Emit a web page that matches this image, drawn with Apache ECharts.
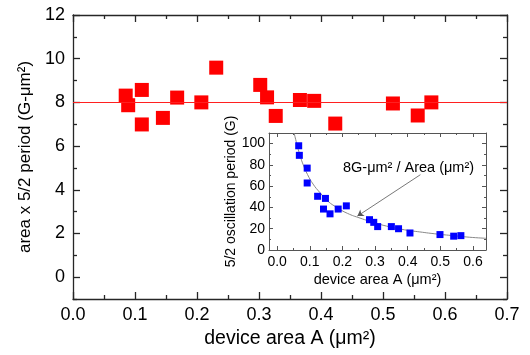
<!DOCTYPE html>
<html><head><meta charset="utf-8">
<script src="https://cdn.jsdelivr.net/npm/echarts@6/dist/echarts.min.js"></script>
<style>html,body{margin:0;padding:0;background:#fff}#c{width:530px;height:355px}</style>
</head><body><div id="c"></div>
<script>
// ---- data ----
const areaMain    = [0.085,0.089,0.111,0.111,0.145,0.168,0.207,0.231,0.302,0.313,0.327,0.366,0.389,0.423,0.516,0.556,0.578];
const productMain = [8.31,7.87,8.57,6.99,7.29,8.22,8.00,9.59,8.80,8.23,7.38,8.11,8.07,7.03,7.95,7.40,8.00];
const refLevel = 8;

const areaInset   = [0.066,0.068,0.092,0.092,0.124,0.148,0.142,0.162,0.187,0.212,0.283,0.296,0.308,0.350,0.372,0.407,0.499,0.541,0.563];
const periodInset = [98,89,77,63,50.5,48.5,38.5,34,38.5,41.5,28.5,26,22,22,20,16,14.5,13,13.5];

const curveArea   = [0.052,0.060,0.070,0.080,0.093,0.110,0.131,0.155,0.183,0.215,0.254,0.300,0.335,0.390,0.437,0.490,0.539,0.590,0.640];
const curvePeriod = [110,100,89,80,71,62,54,46,40,34.5,30,25.5,22.5,19,17,15,13.5,12,11];

const mainYTicks   = [0,2,4,6,8,10,12];
const mainYMinor   = [-1,1,3,5,7,9,11];
const insetXTicks  = [0,0.1,0.2,0.3,0.4,0.5,0.6];
const insetXMinor  = [0.05,0.15,0.25,0.35,0.45,0.55];
const insetYTicks  = [0,20,40,60,80,100];
const insetYMinor  = [10,30,50,70,90];

const arrowFrom = [0.439, 70.8];
const arrowTo   = [0.246, 31.9];

const FONT = "'Liberation Sans', Arial, sans-serif";
const FR = '#262626';
const mainLine = {show:true, onZero:false, lineStyle:{color:FR, width:1.3}};
const insetLine = {show:true, onZero:false, lineStyle:{color:'#555', width:1}};
const noLine = {show:false, onZero:false};
const majT = {inside:true, length:7, lineStyle:{color:FR, width:1.3}};
const minT = {inside:true, length:4, lineStyle:{color:FR, width:1.3}};

function vAxis(extra){ return Object.assign({type:'value', splitLine:{show:false}, axisLabel:{show:false}}, extra); }

const chart = echarts.init(document.getElementById('c'));
chart.setOption({
  animation:false,
  backgroundColor:'#fff',
  textStyle:{fontFamily:FONT},
  title:{text:'8G-\u03bcm\u00b2 / Area (\u03bcm\u00b2)', left:343, top:160, padding:0,
    textStyle:{fontSize:14.5, fontWeight:'normal', color:'#000', fontFamily:FONT}},
  grid:[
    {left:73, right:23, top:15, bottom:56},
    {left:269, right:44, top:133, bottom:105, show:true, backgroundColor:'#fff', borderWidth:0}
  ],
  xAxis:[
    vAxis({gridIndex:0, position:'bottom', min:0, max:0.7, interval:0.1, axisLine:mainLine,
      axisTick:majT,
      minorTick:Object.assign({show:true, splitNumber:2}, minT),
      axisLabel:{show:true, fontSize:18, margin:7, color:'#000', fontFamily:FONT, formatter:v=>v.toFixed(1)},
      name:'device area A (\u03bcm\u00b2)', nameLocation:'middle', nameGap:24,
      nameTextStyle:{fontSize:19.5, color:'#000', fontFamily:FONT}}),
    vAxis({gridIndex:0, position:'top', min:0, max:0.7, interval:0.1, axisLine:mainLine,
      axisTick:majT,
      minorTick:Object.assign({show:true, splitNumber:2}, minT)}),
    vAxis({gridIndex:1, position:'bottom', min:-0.025, max:0.64, axisLine:insetLine,
      axisTick:{inside:true, length:4, customValues:insetXTicks, lineStyle:{color:'#555'}},
      axisLabel:{show:true, customValues:insetXTicks, fontSize:14, margin:5, color:'#000', fontFamily:FONT, formatter:v=>v.toFixed(1)},
      name:'device area A (\u03bcm\u00b2)', nameLocation:'middle', nameGap:22,
      nameTextStyle:{fontSize:14.5, color:'#000', fontFamily:FONT}}),
    vAxis({gridIndex:1, position:'bottom', min:-0.025, max:0.64, axisLine:noLine,
      axisTick:{inside:true, length:2, customValues:insetXMinor, lineStyle:{color:'#555'}}}),
    vAxis({gridIndex:1, position:'top', min:-0.025, max:0.64, axisLine:insetLine,
      axisTick:{inside:true, length:4, customValues:insetXTicks, lineStyle:{color:'#555'}}}),
    vAxis({gridIndex:1, position:'top', min:-0.025, max:0.64, axisLine:noLine,
      axisTick:{inside:true, length:2, customValues:insetXMinor, lineStyle:{color:'#555'}}})
  ],
  yAxis:[
    vAxis({gridIndex:0, position:'left', min:-1, max:12, axisLine:mainLine,
      axisTick:Object.assign({customValues:mainYTicks}, majT),
      axisLabel:{show:true, customValues:mainYTicks, fontSize:18, margin:8, color:'#000', fontFamily:FONT},
      name:'area x 5/2 period (G-\u03bcm\u00b2)', nameLocation:'middle', nameGap:34,
      nameTextStyle:{fontSize:17, color:'#000', fontFamily:FONT}}),
    vAxis({gridIndex:0, position:'left', min:-1, max:12, axisLine:noLine,
      axisTick:Object.assign({customValues:mainYMinor}, minT)}),
    vAxis({gridIndex:0, position:'right', min:-1, max:12, axisLine:mainLine,
      axisTick:Object.assign({customValues:mainYTicks}, majT)}),
    vAxis({gridIndex:0, position:'right', min:-1, max:12, axisLine:noLine,
      axisTick:Object.assign({customValues:mainYMinor}, minT)}),
    vAxis({gridIndex:1, position:'left', min:0, max:110, axisLine:insetLine,
      axisTick:{inside:true, length:4, customValues:insetYTicks, lineStyle:{color:'#555'}},
      axisLabel:{show:true, customValues:insetYTicks, fontSize:14, margin:4, color:'#000', fontFamily:FONT},
      name:'5/2 oscillation period (G)', nameLocation:'middle', nameGap:26,
      nameTextStyle:{fontSize:14, color:'#000', fontFamily:FONT}}),
    vAxis({gridIndex:1, position:'left', min:0, max:110, axisLine:noLine,
      axisTick:{inside:true, length:2, customValues:insetYMinor, lineStyle:{color:'#555'}}}),
    vAxis({gridIndex:1, position:'right', min:0, max:110, axisLine:insetLine,
      axisTick:{inside:true, length:4, customValues:insetYTicks, lineStyle:{color:'#555'}}}),
    vAxis({gridIndex:1, position:'right', min:0, max:110, axisLine:noLine,
      axisTick:{inside:true, length:2, customValues:insetYMinor, lineStyle:{color:'#555'}}})
  ],
  series:[
    {type:'scatter', xAxisIndex:0, yAxisIndex:0, symbol:'rect', symbolSize:14,
      itemStyle:{color:'#ff0000', opacity:1}, z:3,
      data: areaMain.map((a,i)=>[a, productMain[i]]),
      markLine:{silent:true, symbol:'none', label:{show:false},
        lineStyle:{color:'#ff2020', width:1, type:'solid'}, data:[{yAxis:refLevel}]}},
    {type:'line', xAxisIndex:2, yAxisIndex:4, smooth:true, showSymbol:false, symbol:'none',
      lineStyle:{color:'#888', width:1}, z:2,
      data: curveArea.map((a,i)=>[a, curvePeriod[i]]),
      markLine:{silent:true, symbol:['none','arrow'], symbolSize:6, label:{show:false},
        lineStyle:{color:'#555', width:0.8, type:'solid'},
        data:[[{coord:arrowFrom},{coord:arrowTo}]]}},
    {type:'scatter', xAxisIndex:2, yAxisIndex:4, symbol:'rect', symbolSize:7,
      itemStyle:{color:'#0000ff', opacity:1}, z:4,
      data: areaInset.map((a,i)=>[a, periodInset[i]])}
  ]
});
</script></body></html>
